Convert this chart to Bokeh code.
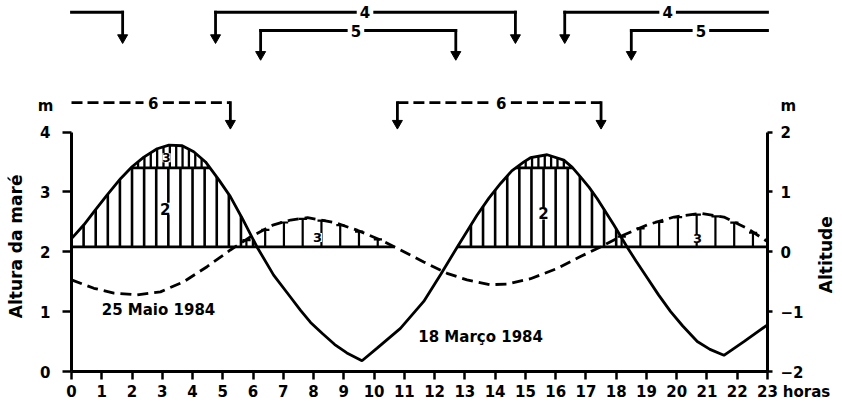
import numpy as np
from bokeh.plotting import figure
from bokeh.models import Range1d, LinearAxis, FixedTicker, Label
from bokeh.embed import file_html
from bokeh.resources import INLINE

# ---------------- data ----------------
# 18 Março 1984 - tide height (m), solid curve
hours_18mar = [0.0, 0.41, 0.79, 1.18, 1.62, 2.0, 2.39, 2.83, 3.22, 3.66, 4.04, 4.43, 4.87,
               5.25, 5.64, 6.13, 6.68, 7.24, 7.57, 7.9, 8.3, 8.7, 9.1, 9.6, 10.1, 10.87,
               11.64, 12.2, 12.75, 13.4, 13.8, 14.18, 14.55, 14.95, 15.17, 15.72, 16.27,
               16.55, 16.82, 17.1, 17.37, 17.92, 18.36, 18.65, 19.03, 19.4, 19.8, 20.2,
               20.68, 21.1, 21.56, 22.22, 23.0]
tide_18mar = [2.22, 2.45, 2.70, 2.95, 3.22, 3.42, 3.58, 3.72, 3.78, 3.77, 3.67, 3.50, 3.20,
              2.92, 2.56, 2.08, 1.61, 1.24, 1.02, 0.82, 0.63, 0.45, 0.31, 0.18, 0.39, 0.72,
              1.17, 1.62, 2.08, 2.61, 2.90, 3.14, 3.35, 3.50, 3.57, 3.62, 3.53,
              3.41, 3.25, 3.08, 2.89, 2.45, 2.08, 1.85, 1.56, 1.28, 1.00, 0.76,
              0.50, 0.37, 0.27, 0.50, 0.78]

# 25 Maio 1984 - tide height (m), dashed curve
hours_25mai = [0.0, 0.74, 1.4, 2.17, 2.94, 3.71, 4.48, 5.25, 5.92, 6.68, 7.24, 7.8, 8.68,
               9.44, 10.2, 10.87, 11.64, 12.41, 13.07, 13.84, 14.39, 15.17, 16.05, 16.82,
               17.48, 18.25, 19.03, 19.91, 20.79, 21.56, 22.33, 23.0]
tide_25mai = [1.53, 1.39, 1.31, 1.28, 1.33, 1.50, 1.75, 2.03, 2.25, 2.45, 2.53, 2.57, 2.49,
              2.36, 2.20, 2.03, 1.83, 1.64, 1.53, 1.45, 1.46, 1.55, 1.72, 1.92,
              2.08, 2.28, 2.45, 2.58, 2.64, 2.58, 2.39, 2.17]

hour_ticks = list(range(0, 24))
height_ticks = [0, 1, 2, 3, 4]
altitude_ticks = [-2, -1, 0, 1, 2]

zero_level = 2.08    # altitude 0 line (on the tide-height scale)
band_level = 3.40    # upper limit of zone 2

# bracket arrows above the chart (hours)
row4_spans = [(0.0, 1.69), (4.76, 14.67), (16.3, 23.0)]
row4_arrows = [1.69, 4.76, 14.67, 16.3]
row4_labels = [9.7, 19.7]
row5_spans = [(6.25, 12.7), (18.5, 23.0)]
row5_arrows = [6.25, 12.7, 18.5]
row5_labels = [9.4, 20.8]
row6_spans = [(0.0, 5.25), (10.77, 17.5)]
row6_arrows = [5.25, 10.77, 17.5]
row6_labels = [2.7, 14.2]

# ---------------- figure: frame = whole canvas ----------------
W, H = 840, 402
PX_PER_HOUR = 30.26
PX_PER_M = 59.875
X0_PX, Y0_PX = 71.0, 371.0      # where hour 0 / height 0 sit on the canvas
x_start = -X0_PX / PX_PER_HOUR
x_end = (W - X0_PX) / PX_PER_HOUR
y_start = (Y0_PX - H) / PX_PER_M
y_end = Y0_PX / PX_PER_M

FONT = "DejaVu Sans"
LW = 2.8
p = figure(width=W, height=H, x_range=Range1d(x_start, x_end), y_range=Range1d(y_start, y_end),
           output_backend="svg", toolbar_location=None,
           x_axis_location=None, y_axis_location=None, min_border=0,
           min_border_left=0, min_border_right=0, min_border_top=0, min_border_bottom=0)
p.outline_line_color = None
p.background_fill_color = "white"
p.border_fill_color = "white"
p.xgrid.grid_line_color = None
p.ygrid.grid_line_color = None
p.extra_y_ranges = {"alt": Range1d(y_start - 2, y_end - 2)}


def style_axis(ax, tick_out, standoff):
    ax.axis_line_width = 3
    ax.axis_line_color = "black"
    ax.major_tick_line_width = 2.5
    ax.major_tick_in = 0
    ax.major_tick_out = tick_out
    ax.minor_tick_line_color = None
    ax.major_label_standoff = standoff
    ax.major_label_text_font = FONT
    ax.major_label_text_font_style = "bold"
    ax.major_label_text_font_size = "15px"
    ax.major_label_text_color = "black"


xax = LinearAxis(ticker=FixedTicker(ticks=hour_ticks), bounds=(0, 23), fixed_location=0)
style_axis(xax, 8, 5)
p.add_layout(xax, "below")
yl = LinearAxis(ticker=FixedTicker(ticks=height_ticks), bounds=(0, 4), fixed_location=0)
style_axis(yl, 9, 12)
p.add_layout(yl, "left")
yr = LinearAxis(y_range_name="alt", ticker=FixedTicker(ticks=altitude_ticks), bounds=(-2, 2),
                fixed_location=23)
style_axis(yr, 5, 8)
p.add_layout(yr, "right")

ts = np.array(hours_18mar, dtype=float)
vs = np.array(tide_18mar, dtype=float)
td = np.array(hours_25mai, dtype=float)
vd = np.array(tide_25mai, dtype=float)

# ---------------- hatching ----------------
th = np.arange(0.4, 23.0, 0.4)
sh = np.interp(th, ts, vs)
m = sh > zero_level + 0.03
p.segment(x0=th[m], y0=np.full(m.sum(), zero_level), x1=th[m],
          y1=np.minimum(sh[m], band_level), line_color="black", line_width=2.6)

tf = np.arange(0.1, 23.0, 0.21)
sf = np.interp(tf, ts, vs)
m = sf > band_level + 0.03
p.segment(x0=tf[m], y0=np.full(m.sum(), band_level), x1=tf[m], y1=sf[m],
          line_color="black", line_width=2.3)

t3 = np.arange(0.2, 23.0, 0.62)
d3 = np.interp(t3, td, vd)
m = d3 > zero_level + 0.05
p.segment(x0=t3[m], y0=np.full(m.sum(), zero_level), x1=t3[m], y1=d3[m] - 0.01,
          line_color="black", line_width=2.2)
p.segment(x0=t3[m] - 0.13, y0=d3[m] - 0.01, x1=t3[m] + 0.14, y1=d3[m] - 0.01,
          line_color="black", line_width=2.2)

grid = np.linspace(0, 23, 4601)
gs = np.interp(grid, ts, vs)
gd = np.interp(grid, td, vd)


def runs(mask):
    out, start = [], None
    for i, flag in enumerate(mask):
        if flag and start is None:
            start = grid[i]
        if not flag and start is not None:
            out.append((start, grid[i - 1]))
            start = None
    if start is not None:
        out.append((start, grid[-1]))
    return out


for a, b in runs(np.maximum(gs, gd) > zero_level):
    p.line([a, b], [zero_level, zero_level], line_color="black", line_width=LW)
for a, b in runs(gs > band_level):
    p.line([a, b], [band_level, band_level], line_color="black", line_width=LW)

# ---------------- curves ----------------
p.line(hours_25mai, tide_25mai, line_color="black", line_width=LW, line_dash="11 6")
p.line(hours_18mar, tide_18mar, line_color="black", line_width=LW)


# ---------------- bracket arrows ----------------
def bracket(spans, arrows, labels, lvl, tip, dash, text):
    gap = 0.32
    for (a, b) in spans:
        inner = [l for l in labels if a < l < b]
        if inner:
            l = inner[0]
            pieces = [(a, l - gap), (l + gap, b)]
        else:
            pieces = [(a, b)]
        for (u, v) in pieces:
            p.line([u, v], [lvl, lvl], line_color="black", line_width=LW,
                   line_dash=dash, line_cap="square" if dash == "solid" else "butt")
        for l in inner:
            p.add_layout(Label(x=l, y=lvl, text=text, text_font=FONT, text_font_style="bold",
                               text_font_size="15px", text_align="center",
                               text_baseline="middle", text_color="black"))
    p.segment(x0=arrows, y0=[lvl] * len(arrows), x1=arrows, y1=[tip + 0.1] * len(arrows),
              line_color="black", line_width=LW, line_cap="square")
    p.scatter(x=arrows, y=[tip + 0.085] * len(arrows), marker="inverted_triangle",
              size=10, fill_color="black", line_color="black")


bracket(row4_spans, row4_arrows, row4_labels, 6.0, 5.49, "solid", "4")
bracket(row5_spans, row5_arrows, row5_labels, 5.695, 5.21, "solid", "5")
bracket(row6_spans, row6_arrows, row6_labels, 4.49, 4.06, "11 5", "6")


# ---------------- texts ----------------
def lab(x, y, text, size="15px", angle=0.0, bg=None):
    p.add_layout(Label(x=x, y=y, text=text, text_font=FONT, text_font_style="bold",
                       text_font_size=size, text_align="center", text_baseline="middle",
                       angle=angle, text_color="black", background_fill_color=bg))


lab(3.1, 2.72, "2", bg="white")
lab(15.6, 2.64, "2", bg="white")
lab(3.14, 3.57, "3", size="12px", bg="white")
lab(8.13, 2.24, "3", size="13px", bg="white")
lab(20.69, 2.22, "3", size="13px", bg="white")
lab(2.875, 1.02, "25 Maio 1984")
lab(13.52, 0.57, "18 Março 1984")
lab(-0.86, 4.44, "m")
lab(23.69, 4.44, "m")
lab(24.29, -0.35, "horas")
lab(-1.82, 2.09, "Altura da maré", size="17px", angle=np.pi / 2)
lab(24.95, 1.95, "Altitude", size="17px", angle=np.pi / 2)

open("out.html", "w").write(file_html(p, INLINE))
